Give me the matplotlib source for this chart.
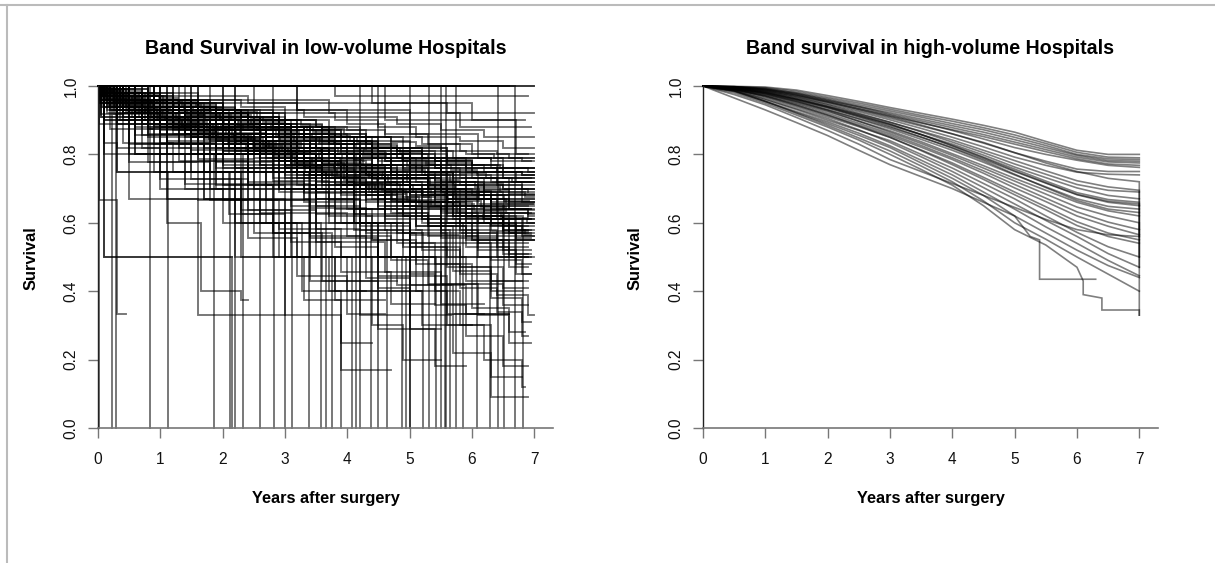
import matplotlib
matplotlib.use("Agg")
import matplotlib.pyplot as plt
from matplotlib.lines import Line2D

plt.rcParams['font.family'] = ['Liberation Sans', 'DejaVu Sans']

# ---------------- data ----------------
# Left panel: Kaplan-Meier curves of low-volume hospitals.
# each curve: [t1, s1, t2, s2, ..., end_time]  (survival starts at 1.0)
low_band = [
    [.15,.97, .6,.95, 1.2,.93, 1.9,.91, 2.6,.88, 3.3,.85, 4.1,.82, 4.8,.79, 5.6,.77, 6.4,.75, 7.0],
    [.05,.96, .3,.93, .8,.91, 1.4,.88, 2.0,.85, 2.5,.82, 3.2,.78, 3.9,.74, 4.5,.70, 5.1,.66, 5.9,.62, 6.5,.59, 7.0],
    [.2,.98, .7,.96, 1.5,.94, 2.2,.92, 2.9,.89, 3.6,.87, 4.3,.84, 5.0,.81, 5.7,.79, 6.3,.78, 6.95],
    [.1,.95, .5,.92, 1.0,.89, 1.6,.86, 2.1,.82, 2.8,.78, 3.4,.74, 4.0,.70, 4.6,.66, 5.2,.61, 5.8,.57, 6.4,.53, 6.9],
    [.3,.97, .9,.95, 1.7,.92, 2.4,.90, 3.0,.86, 3.7,.83, 4.2,.80, 4.9,.76, 5.5,.72, 6.1,.70, 6.6,.68, 7.0],
    [.05,.94, .4,.91, 1.1,.88, 1.8,.84, 2.4,.80, 3.0,.76, 3.5,.72, 4.1,.68, 4.7,.63, 5.3,.59, 6.0,.55, 6.6,.50, 6.95],
    [.25,.98, 1.0,.96, 1.8,.95, 2.5,.93, 3.3,.91, 4.0,.89, 4.6,.86, 5.3,.83, 6.0,.80, 6.6,.79, 7.0],
    [.1,.97, .6,.94, 1.3,.90, 2.0,.87, 2.7,.84, 3.4,.80, 4.2,.76, 4.8,.73, 5.5,.69, 6.2,.65, 6.9],
    [.4,.96, 1.1,.93, 1.9,.89, 2.6,.85, 3.1,.81, 3.8,.77, 4.4,.72, 5.0,.68, 5.6,.63, 6.3,.60, 7.0],
    [.08,.97, .5,.95, 1.0,.92, 1.7,.90, 2.3,.87, 3.1,.83, 3.8,.80, 4.5,.77, 5.2,.74, 5.9,.71, 6.5,.70, 7.0],
    [.15,.93, .7,.90, 1.4,.86, 2.2,.82, 2.9,.78, 3.6,.73, 4.3,.68, 4.9,.62, 5.5,.57, 6.1,.52, 6.7,.48, 6.95],
    [.3,.99, .8,.97, 1.6,.96, 2.3,.94, 3.0,.92, 3.8,.90, 4.5,.88, 5.1,.85, 5.8,.84, 6.5,.82, 7.0],
    [.05,.98, .35,.95, .9,.92, 1.5,.89, 2.1,.86, 2.6,.83, 3.3,.79, 3.9,.75, 4.6,.71, 5.4,.66, 6.0,.62, 6.7,.58, 7.0],
    [.2,.96, .8,.94, 1.6,.91, 2.2,.88, 2.9,.85, 3.5,.82, 4.1,.79, 4.7,.75, 5.4,.72, 6.2,.69, 6.9],
    [.1,.97, .5,.93, 1.2,.89, 1.8,.85, 2.5,.81, 3.2,.77, 3.7,.73, 4.3,.68, 4.8,.64, 5.3,.60, 5.9,.56, 6.5,.52, 6.95],
    [.45,.98, 1.2,.95, 2.0,.93, 2.8,.90, 3.5,.88, 4.2,.85, 4.9,.82, 5.6,.79, 6.3,.76, 7.0],
    [.12,.96, .6,.93, 1.4,.91, 2.1,.89, 2.7,.86, 3.4,.82, 4.0,.79, 4.7,.74, 5.3,.70, 5.9,.67, 6.6,.64, 7.0],
    [.2,.95, .9,.91, 1.5,.87, 2.3,.83, 3.0,.79, 3.6,.75, 4.2,.70, 4.9,.65, 5.5,.60, 6.0,.55, 6.6,.51, 6.9],
    [.06,.99, .5,.97, 1.1,.95, 1.9,.93, 2.6,.90, 3.2,.87, 3.9,.85, 4.5,.82, 5.2,.79, 5.9,.76, 6.5,.74, 7.0],
    [.3,.94, .9,.92, 1.5,.89, 2.2,.86, 2.8,.83, 3.5,.79, 4.1,.75, 4.8,.71, 5.6,.67, 6.3,.63, 7.0],
    [.1,.98, .7,.95, 1.3,.93, 2.0,.90, 2.6,.87, 3.3,.84, 4.0,.81, 4.6,.78, 5.2,.75, 5.8,.73, 6.4,.72, 6.95],
    [.2,.97, .8,.93, 1.5,.90, 2.1,.86, 2.7,.82, 3.3,.78, 4.0,.74, 4.6,.69, 5.3,.64, 6.0,.59, 6.6,.55, 7.0],
    [.04,.95, .3,.92, .7,.89, 1.2,.87, 1.9,.84, 2.6,.80, 3.2,.77, 3.9,.73, 4.6,.69, 5.2,.66, 5.8,.62, 6.5,.58, 6.9],
    [.35,.97, 1.0,.94, 1.7,.92, 2.4,.89, 3.1,.86, 3.8,.83, 4.4,.79, 5.1,.75, 5.7,.71, 6.2,.68, 6.8,.66, 7.0],
    [.15,.96, .6,.94, 1.2,.92, 1.9,.88, 2.5,.85, 3.1,.81, 3.7,.77, 4.3,.74, 5.0,.70, 5.7,.65, 6.4,.61, 7.0],
    [.5,.95, 1.3,.92, 2.0,.88, 2.7,.84, 3.4,.80, 4.0,.76, 4.6,.72, 5.2,.68, 5.9,.64, 6.5,.61, 6.95],
    [.1,.99, .8,.98, 1.6,.97, 2.4,.95, 3.2,.93, 4.0,.91, 4.8,.89, 5.5,.87, 6.2,.85, 7.0],
    [.25,.93, .8,.89, 1.4,.85, 2.0,.81, 2.6,.77, 3.2,.73, 3.9,.69, 4.5,.64, 5.1,.59, 5.7,.54, 6.3,.49, 6.8,.45, 6.95],
    [.07,.97, .4,.94, 1.0,.91, 1.6,.88, 2.3,.84, 3.0,.81, 3.6,.78, 4.3,.74, 4.9,.71, 5.6,.68, 6.3,.66, 7.0],
    [.2,.98, .9,.96, 1.6,.93, 2.3,.91, 3.0,.88, 3.6,.84, 4.3,.81, 5.0,.77, 5.6,.74, 6.3,.72, 7.0],
]
low_band_extra = [
    [.02,.97, .2,.95, .5,.93, .9,.91, 1.3,.90, 1.8,.88, 2.2,.86, 2.7,.84, 3.2,.82, 3.6,.80, 4.1,.77, 4.6,.75, 5.0,.73, 5.5,.70, 6.0,.68, 6.6,.66, 7.0],
    [.1,.99, .4,.98, .7,.96, 1.1,.95, 1.5,.94, 2.0,.92, 2.4,.91, 2.9,.89, 3.4,.87, 3.9,.85, 4.3,.83, 4.8,.81, 5.4,.78, 5.9,.76, 6.5,.75, 7.0],
    [.05,.96, .25,.94, .6,.92, 1.0,.90, 1.4,.87, 1.8,.85, 2.3,.83, 2.8,.80, 3.1,.78, 3.5,.75, 4.0,.72, 4.4,.69, 4.9,.66, 5.5,.63, 6.1,.60, 6.6,.57, 6.95],
    [.15,.98, .45,.96, .85,.95, 1.3,.93, 1.7,.91, 2.2,.89, 2.6,.87, 3.0,.85, 3.5,.83, 4.0,.80, 4.5,.78, 5.0,.75, 5.6,.73, 6.2,.71, 6.8,.70, 7.0],
    [.03,.95, .3,.93, .55,.91, 1.0,.89, 1.5,.86, 2.0,.83, 2.5,.80, 3.0,.77, 3.4,.74, 3.9,.71, 4.5,.67, 5.0,.64, 5.6,.60, 6.1,.57, 6.7,.54, 6.9],
    [.2,.97, .5,.96, 1.0,.94, 1.4,.93, 1.9,.91, 2.5,.89, 3.0,.88, 3.4,.86, 3.9,.84, 4.4,.82, 4.9,.80, 5.4,.78, 6.0,.77, 6.5,.76, 7.0],
    [.08,.96, .35,.93, .75,.90, 1.2,.88, 1.6,.85, 2.1,.82, 2.6,.79, 3.0,.76, 3.6,.72, 4.1,.69, 4.6,.65, 5.2,.61, 5.8,.58, 6.4,.55, 7.0],
    [.25,.99, .6,.97, 1.0,.96, 1.5,.95, 2.0,.93, 2.5,.92, 3.0,.90, 3.5,.88, 4.0,.87, 4.6,.85, 5.2,.83, 5.8,.81, 6.4,.80, 7.0],
    [.04,.98, .2,.96, .45,.94, .8,.92, 1.2,.90, 1.7,.87, 2.1,.85, 2.5,.82, 3.0,.80, 3.5,.77, 4.0,.74, 4.6,.71, 5.2,.68, 5.7,.65, 6.3,.63, 6.9,.61, 7.0],
    [.12,.95, .4,.92, .9,.90, 1.3,.87, 1.9,.84, 2.4,.81, 2.9,.78, 3.3,.74, 3.8,.71, 4.3,.67, 4.8,.63, 5.3,.59, 5.9,.55, 6.5,.51, 6.95],
    [.3,.98, .7,.97, 1.2,.95, 1.8,.93, 2.3,.90, 2.8,.88, 3.3,.85, 3.8,.83, 4.4,.80, 4.9,.78, 5.5,.75, 6.1,.73, 6.7,.72, 7.0],
    [.06,.97, .3,.95, .7,.93, 1.1,.91, 1.6,.89, 2.1,.87, 2.7,.85, 3.2,.82, 3.7,.80, 4.2,.77, 4.8,.74, 5.3,.71, 5.9,.69, 6.5,.67, 7.0],
    [.18,.94, .6,.91, 1.0,.88, 1.5,.85, 2.0,.81, 2.6,.78, 3.2,.74, 3.7,.70, 4.3,.66, 4.9,.62, 5.5,.58, 6.1,.54, 6.7,.50, 6.9],
    [.1,.98, .5,.97, .9,.95, 1.4,.94, 1.8,.92, 2.3,.90, 2.9,.88, 3.4,.86, 4.0,.84, 4.5,.81, 5.0,.79, 5.6,.77, 6.2,.75, 6.8,.74, 7.0],
    [.02,.96, .28,.94, .65,.91, 1.1,.89, 1.6,.86, 2.2,.84, 2.7,.81, 3.3,.78, 3.8,.76, 4.4,.73, 5.0,.70, 5.6,.67, 6.3,.64, 6.9,.62, 7.0],
    [.22,.97, .55,.95, 1.0,.92, 1.5,.90, 2.1,.87, 2.6,.85, 3.1,.82, 3.7,.79, 4.2,.76, 4.7,.73, 5.3,.70, 5.8,.67, 6.4,.64, 6.95],
    [.05,.99, .3,.97, .6,.95, 1.0,.94, 1.5,.92, 2.0,.91, 2.6,.89, 3.1,.87, 3.7,.84, 4.2,.82, 4.8,.79, 5.4,.76, 6.0,.73, 6.6,.70, 7.0],
    [.14,.95, .5,.93, .95,.90, 1.4,.88, 1.9,.85, 2.4,.82, 3.0,.79, 3.5,.76, 4.0,.73, 4.6,.69, 5.1,.66, 5.7,.62, 6.3,.59, 6.8,.56, 7.0],
    [.35,.98, .8,.96, 1.3,.94, 1.9,.92, 2.4,.90, 2.9,.87, 3.5,.85, 4.1,.82, 4.7,.80, 5.3,.77, 5.9,.75, 6.5,.73, 7.0],
    [.08,.97, .4,.94, .8,.92, 1.2,.89, 1.7,.87, 2.2,.84, 2.7,.81, 3.3,.78, 3.9,.75, 4.5,.71, 5.0,.68, 5.6,.64, 6.2,.61, 6.8,.58, 6.95],
]
low_band_fine = [
    [.1,.985, .3,.97, .55,.955, .8,.945, 1.1,.93, 1.4,.915, 1.7,.905, 2.0,.89, 2.3,.875, 2.6,.86, 2.9,.845, 3.2,.83, 3.5,.815, 3.8,.80, 4.1,.785, 4.4,.77, 4.7,.755, 5.0,.74, 5.4,.725, 5.8,.71, 6.2,.695, 6.6,.685, 7.0],
    [.05,.98, .2,.965, .45,.95, .7,.935, .95,.92, 1.25,.905, 1.5,.89, 1.85,.875, 2.15,.855, 2.45,.84, 2.75,.82, 3.05,.805, 3.4,.785, 3.7,.77, 4.0,.75, 4.35,.73, 4.7,.71, 5.05,.69, 5.4,.67, 5.8,.65, 6.2,.63, 6.6,.61, 6.95],
    [.15,.99, .4,.98, .65,.97, .9,.96, 1.2,.95, 1.5,.94, 1.8,.93, 2.1,.915, 2.45,.905, 2.8,.89, 3.1,.88, 3.45,.865, 3.8,.85, 4.15,.835, 4.5,.82, 4.85,.805, 5.2,.79, 5.6,.775, 6.0,.76, 6.4,.75, 6.8,.74, 7.0],
    [.03,.975, .18,.955, .4,.94, .6,.925, .85,.91, 1.1,.895, 1.35,.88, 1.6,.86, 1.9,.845, 2.2,.83, 2.5,.81, 2.8,.79, 3.1,.775, 3.4,.755, 3.75,.735, 4.1,.715, 4.45,.695, 4.8,.675, 5.15,.655, 5.5,.635, 5.9,.615, 6.3,.595, 6.7,.575, 6.9],
    [.08,.99, .25,.975, .5,.965, .75,.955, 1.05,.94, 1.3,.93, 1.6,.915, 1.95,.90, 2.25,.885, 2.55,.875, 2.9,.86, 3.2,.845, 3.55,.83, 3.9,.81, 4.25,.795, 4.6,.78, 4.95,.765, 5.3,.745, 5.7,.73, 6.1,.715, 6.5,.70, 6.9,.69, 7.0],
    [.12,.98, .35,.96, .6,.945, .9,.925, 1.2,.91, 1.45,.895, 1.75,.875, 2.05,.86, 2.35,.845, 2.65,.825, 2.95,.81, 3.3,.79, 3.6,.775, 3.95,.755, 4.3,.74, 4.65,.72, 5.0,.70, 5.35,.685, 5.75,.665, 6.15,.645, 6.55,.63, 6.95],
    [.02,.985, .22,.975, .48,.96, .72,.95, 1.0,.94, 1.3,.925, 1.6,.91, 1.9,.90, 2.2,.885, 2.5,.87, 2.85,.855, 3.15,.84, 3.5,.82, 3.85,.805, 4.2,.79, 4.55,.77, 4.9,.755, 5.25,.74, 5.65,.72, 6.05,.705, 6.45,.69, 6.85,.675, 7.0],
    [.1,.975, .3,.955, .5,.94, .75,.92, 1.0,.905, 1.3,.885, 1.55,.87, 1.85,.85, 2.1,.835, 2.4,.815, 2.7,.80, 3.0,.78, 3.3,.765, 3.6,.745, 3.95,.725, 4.3,.705, 4.6,.685, 4.95,.665, 5.3,.645, 5.7,.62, 6.1,.60, 6.5,.58, 6.85,.565, 6.95],
    [.2,.99, .45,.98, .75,.97, 1.05,.955, 1.35,.945, 1.65,.935, 2.0,.92, 2.3,.91, 2.65,.895, 3.0,.88, 3.35,.87, 3.7,.855, 4.05,.84, 4.4,.825, 4.8,.81, 5.2,.80, 5.6,.785, 6.0,.77, 6.45,.76, 6.9,.75, 7.0],
    [.06,.98, .26,.965, .5,.945, .78,.93, 1.05,.915, 1.32,.90, 1.62,.885, 1.92,.87, 2.22,.85, 2.52,.835, 2.85,.815, 3.18,.80, 3.5,.78, 3.85,.765, 4.2,.745, 4.55,.73, 4.9,.71, 5.3,.69, 5.7,.675, 6.1,.655, 6.5,.64, 6.9,.625, 7.0],
    [.14,.985, .38,.97, .62,.955, .88,.94, 1.15,.93, 1.42,.915, 1.72,.90, 2.02,.885, 2.32,.87, 2.62,.85, 2.92,.835, 3.25,.82, 3.58,.80, 3.92,.785, 4.25,.765, 4.6,.75, 4.95,.73, 5.32,.715, 5.72,.70, 6.12,.68, 6.52,.665, 6.92],
    [.04,.97, .24,.955, .46,.935, .7,.92, .96,.90, 1.22,.885, 1.5,.865, 1.78,.845, 2.08,.83, 2.38,.81, 2.7,.79, 3.0,.77, 3.32,.75, 3.65,.73, 4.0,.71, 4.35,.69, 4.72,.665, 5.1,.645, 5.5,.62, 5.9,.60, 6.3,.575, 6.7,.555, 6.95],
    [.18,.99, .42,.985, .7,.975, .98,.965, 1.28,.955, 1.58,.945, 1.9,.935, 2.2,.925, 2.55,.91, 2.9,.90, 3.25,.885, 3.6,.875, 3.95,.86, 4.3,.85, 4.7,.835, 5.1,.825, 5.5,.81, 5.9,.80, 6.35,.79, 6.8,.78, 7.0],
    [.09,.98, .32,.965, .58,.95, .84,.935, 1.12,.92, 1.4,.905, 1.68,.89, 1.98,.875, 2.28,.86, 2.6,.84, 2.9,.825, 3.22,.81, 3.55,.79, 3.88,.775, 4.22,.755, 4.58,.74, 4.95,.72, 5.32,.705, 5.72,.685, 6.12,.67, 6.55,.655, 6.98],
    [.01,.975, .16,.96, .36,.945, .58,.93, .82,.915, 1.08,.90, 1.34,.885, 1.62,.865, 1.92,.85, 2.22,.83, 2.52,.815, 2.84,.795, 3.16,.775, 3.5,.755, 3.84,.735, 4.2,.715, 4.56,.695, 4.94,.675, 5.34,.65, 5.76,.63, 6.18,.61, 6.6,.59, 6.9],
    [.11,.99, .33,.98, .57,.965, .83,.955, 1.1,.945, 1.38,.93, 1.66,.92, 1.96,.905, 2.26,.895, 2.58,.88, 2.9,.865, 3.22,.85, 3.56,.835, 3.9,.82, 4.26,.805, 4.62,.79, 5.0,.775, 5.4,.76, 5.8,.745, 6.22,.73, 6.64,.72, 7.0],
    [.07,.98, .28,.96, .52,.945, .76,.93, 1.02,.91, 1.3,.895, 1.58,.88, 1.88,.86, 2.18,.845, 2.48,.825, 2.8,.81, 3.12,.79, 3.44,.77, 3.78,.755, 4.12,.735, 4.48,.715, 4.84,.695, 5.22,.675, 5.62,.655, 6.04,.635, 6.46,.615, 6.88,.60, 7.0],
    [.16,.985, .4,.975, .66,.96, .94,.95, 1.22,.94, 1.52,.925, 1.82,.915, 2.14,.90, 2.46,.89, 2.78,.875, 3.1,.86, 3.44,.845, 3.78,.83, 4.14,.815, 4.5,.80, 4.88,.785, 5.26,.77, 5.66,.755, 6.08,.74, 6.5,.73, 6.94],
]
low_small_n = [
    [.1,.9, .6,.8, 1.4,.7, 2.2,.6, 3.1,.5, 4.0,.4, 5.2,.3, 6.0],
    [.05,.917, .4,.833, 1.2,.75, 2.0,.667, 2.9,.583, 3.9,.5, 4.8,.417, 5.9,.333, 6.6],
    [.2,.929, .7,.857, 1.6,.786, 2.5,.714, 3.4,.643, 4.3,.571, 5.1,.5, 5.9,.429, 6.8],
    [.15,.944, .5,.889, 1.1,.833, 1.9,.778, 2.8,.722, 3.7,.667, 4.6,.611, 5.5,.556, 6.4,.5, 7.0],
    [.3,.95, 1.0,.9, 1.7,.85, 2.3,.8, 3.2,.75, 4.0,.7, 4.9,.65, 5.8,.6, 6.7,.55, 7.0],
    [.08,.938, .8,.875, 1.5,.813, 2.4,.75, 3.3,.688, 4.1,.625, 5.0,.563, 5.8,.5, 6.9],
    [.4,.955, .9,.909, 1.8,.864, 2.7,.818, 3.6,.773, 4.4,.727, 5.3,.682, 6.2,.636, 7.0],
    [.12,.962, .45,.923, .9,.885, 1.7,.846, 2.6,.808, 3.5,.769, 4.5,.731, 5.4,.692, 6.3,.654, 7.0],
    [.02,.889, .5,.778, 1.8,.667, 3.4,.556, 4.5,.444, 5.6,.333, 6.6],
    [.25,.952, .8,.905, 1.4,.857, 2.2,.810, 3.0,.762, 3.8,.714, 4.7,.667, 5.6,.619, 6.5,.571, 6.9],
    [.6,.96, 1.5,.92, 2.4,.88, 3.3,.84, 4.1,.80, 5.0,.76, 5.9,.72, 6.8,.68, 7.0],
    [.05,.909, .3,.818, 1.0,.727, 2.4,.636, 3.5,.545, 4.6,.455, 5.5,.364, 6.2],
    [.35,.94, .8,.88, 1.3,.82, 2.0,.76, 2.7,.71, 3.5,.65, 4.2,.59, 5.0,.53, 5.8,.47, 6.5,.41, 6.9],
    [.1,.97, .9,.94, 1.9,.91, 2.9,.88, 3.8,.85, 4.7,.82, 5.6,.79, 6.5,.76, 7.0],
]
low_medium = [
    [.3,.95, 1.2,.90, 2.1,.85, 3.0,.80, 3.8,.75, 4.6,.70, 5.4,.65, 6.2,.60, 7.0],
    [.1,.94, .9,.88, 1.7,.82, 2.9,.76, 3.6,.71, 4.5,.65, 5.1,.59, 5.9,.53, 6.6,.47, 6.9],
    [.6,.95, 1.5,.90, 2.6,.86, 3.4,.81, 4.4,.76, 5.3,.71, 6.1,.67, 7.0],
    [.2,.93, 1.0,.87, 1.9,.80, 2.8,.73, 3.5,.67, 4.2,.60, 4.9,.53, 5.6,.47, 6.3,.40, 6.8],
    [.4,.96, 1.6,.92, 2.5,.88, 3.7,.83, 4.7,.79, 5.5,.75, 6.4,.71, 7.0],
    [.15,.92, .8,.85, 1.6,.78, 2.4,.72, 3.3,.66, 4.1,.60, 4.8,.54, 5.4,.48, 6.0,.42, 6.5,.36, 6.9],
    [.5,.94, 1.4,.89, 2.2,.83, 3.1,.77, 4.0,.72, 4.8,.66, 5.7,.61, 6.5,.56, 7.0],
    [.05,.95, .7,.90, 1.8,.86, 2.7,.81, 3.3,.76, 4.1,.71, 5.0,.66, 5.8,.61, 6.6,.57, 7.0],
    [.3,.91, 1.1,.84, 2.0,.77, 2.7,.70, 3.4,.63, 4.0,.56, 4.7,.49, 5.3,.42, 6.0,.35, 6.6,.28, 6.85],
    [.2,.96, 1.3,.93, 2.3,.89, 3.2,.86, 4.3,.82, 5.2,.78, 6.0,.75, 6.7,.73, 7.0],
    [.4,.93, 1.2,.86, 2.1,.80, 3.0,.74, 3.9,.68, 4.6,.62, 5.3,.56, 6.1,.50, 6.7,.45, 6.95],
    [.1,.97, 1.0,.93, 2.0,.88, 2.9,.84, 3.8,.79, 4.7,.74, 5.6,.69, 6.4,.65, 7.0],
    [.6,.92, 1.5,.85, 2.4,.78, 3.2,.71, 4.1,.64, 4.9,.57, 5.6,.50, 6.3,.43, 6.9],
    [.25,.95, 1.1,.91, 2.2,.86, 3.3,.82, 4.2,.77, 5.1,.72, 5.9,.68, 6.6,.64, 6.95],
    [.1,.90, .9,.83, 1.9,.76, 2.9,.69, 3.7,.62, 4.4,.55, 5.1,.48, 5.8,.41, 6.4,.34, 6.8,.27, 6.9],
]
low_lower = [
    [.5,.92, 1.6,.83, 2.6,.75, 3.5,.67, 4.2,.58, 4.9,.50, 5.5,.42, 6.1,.33, 6.6,.25, 6.95],
    [.3,.89, 1.3,.78, 2.4,.67, 3.4,.56, 4.3,.44, 5.0,.33, 5.7,.22, 6.3,.09, 6.9],
    [.7,.9, 1.9,.8, 2.9,.7, 3.7,.6, 4.5,.5, 5.1,.4, 5.6,.3, 6.2,.2, 6.8,.12, 6.85],
    [.2,.94, 1.0,.88, 1.9,.82, 2.7,.76, 3.4,.70, 4.0,.64, 4.6,.58, 5.2,.52, 5.8,.45, 6.4,.39, 6.9,.33, 7.0],
    [.9,.91, 2.0,.82, 3.0,.73, 3.8,.64, 4.4,.55, 5.0,.45, 5.4,.36, 5.9,.27, 6.5,.18, 6.9],
    [1.2,.88, 2.2,.76, 3.1,.65, 3.8,.53, 4.5,.41, 5.0,.29, 5.4,.18, 5.9],
    [.4,.92, 1.5,.85, 2.6,.77, 3.5,.69, 4.3,.62, 5.0,.54, 5.7,.46, 6.3,.38, 6.8,.31, 6.95],
    [.6,.83, 1.7,.67, 2.3,.5, 3.0,.33, 3.9,.17, 4.7],
    [1.0,.86, 2.0,.71, 2.8,.57, 3.4,.43, 4.5,.29, 5.5],
    [.35,.9, 1.1,.8, 1.9,.7, 2.6,.6, 3.2,.5, 3.8,.4, 4.4,.3, 4.9,.2, 5.5],
    [.5,.67, 1.6,.33, 3.0],
    [.8,.875, 1.5,.75, 2.3,.625, 2.8,.5, 3.3,.375, 3.9,.25, 4.4],
    [1.6,.9, 2.7,.8, 3.5,.7, 4.1,.6, 4.7,.5, 5.4,.4, 5.8,.3, 6.3,.15, 6.8],
    [.3,.9, 1.1,.8, 1.8,.7, 2.7,.6, 3.5,.5, 4.4,.4, 5.2],
    [.2,.875, .9,.75, 2.1,.625, 3.0,.5, 3.8,.375, 4.6],
    [.5,.83, 1.7,.67, 3.0,.5, 4.2,.33, 5.0],
    [.1,.8, 1.0,.7, 2.0,.6, 2.9,.5, 3.7,.4, 4.3],
    [.6,.857, 1.4,.714, 2.5,.571, 3.6,.429, 4.8],
    [.3,.889, .8,.778, 1.6,.667, 2.4,.556, 3.2,.444, 4.0,.333, 4.6],
    [.05,.909, .7,.818, 1.5,.727, 2.3,.636, 3.1,.545, 3.9,.455, 4.7,.364, 5.4],
    [.25,.917, 1.0,.833, 1.8,.75, 2.7,.667, 3.5,.583, 4.2,.5, 5.0,.417, 5.7,.333, 6.2],
    [.1,.5, 2.15],
    [.02,.667, .3,.333, .45],
    [.1,.833, .3,.75, 2.2,.5, 2.9],
    [.6,.8, 1.1,.6, 1.65,.4, 2.3,.375, 2.4],
]
low_zero = [
    [.1,.5, 2.15,0, 2.15],
    [.3,.75, 2.12,0, 2.12],
    [.4,.9, 1.5,.8, 2.5,.7, 3.1,.6, 3.58,0, 3.58],
    [.8,.86, 1.9,.71, 2.8,.57, 3.76,0, 3.76],
    [1.0,.8, 2.3,.6, 3.28,.4, 3.9,0, 3.9],
    [.6,.88, 1.7,.75, 2.6,.63, 3.4,.5, 4.07,0, 4.07],
    [.9,.9, 2.0,.8, 3.0,.7, 3.8,.6, 4.38,0, 4.38],
    [.5,.92, 1.3,.83, 2.4,.75, 3.3,.67, 4.1,.58, 4.63,0, 4.63],
    [1.2,.875, 2.2,.75, 3.5,.625, 4.3,.5, 4.88,0, 4.88],
    [.7,.9, 1.8,.8, 2.9,.7, 3.9,.6, 4.5,.5, 4.94,0, 4.94],
    [.3,.93, 1.4,.86, 2.5,.79, 3.4,.71, 4.2,.64, 4.8,.57, 5.22,0, 5.22],
    [1.1,.9, 2.6,.8, 3.6,.7, 4.6,.6, 5.0,.5, 5.43,0, 5.43],
    [.6,.94, 1.9,.88, 3.0,.81, 4.0,.75, 4.9,.69, 5.56,0, 5.56],
    [.9,.92, 2.1,.83, 3.2,.75, 4.4,.67, 5.1,.58, 5.65,0, 5.65],
    [1.5,.9, 3.1,.8, 4.2,.7, 5.2,.6, 5.86,0, 5.86],
    [.4,.95, 1.6,.9, 2.8,.85, 3.9,.8, 4.9,.75, 5.7,.7, 6.08,0, 6.08],
    [2.0,.9, 3.7,.8, 5.0,.7, 5.9,.6, 6.29,0, 6.29],
    [.8,.93, 2.4,.87, 3.6,.8, 4.7,.73, 5.6,.67, 6.51,0, 6.51],
    [1.3,.92, 3.0,.85, 4.4,.77, 5.5,.69, 6.3,.62, 6.82,0, 6.82],
    [2.2,.875, 3.1,.75, 3.39,0, 3.39],
    [1.6,.8, 2.33,0, 2.33],
    [1.1,.67, 2.6,0, 2.6],
    [.5,.8, 1.86,0, 1.86],
    [1.0,.75, 1.12,0, 1.12],
    [2.0,.83, 2.82,0, 2.82],
    [1.4,.86, 2.4,.71, 3.0,0, 3.0],
    [.9,.9, 2.5,.8, 3.11,0, 3.11],
    [3.2,.8, 4.14,0, 4.14],
    [2.8,.75, 3.66,0, 3.66],
    [1.8,.8, 3.5,.6, 5.0,0, 5.0],
]
low_single_death = [0.01, 0.22, 0.29, 0.84, 2.19, 4.2, 4.5, 5.0, 5.31, 5.5, 5.59, 5.74, 6.42, 6.69]
low_top = [
    [7.0],
    [6.6],
    [7.0],
    [3.8,.97, 6.9],
    [2.5,.95, 5.6,.92, 7.0],
    [4.6,.9, 6.7,.8, 6.9],
    [3.2,.93, 5.0,.86, 6.1,.79, 7.0],
    [1.5,.96, 3.7,.92, 5.8,.88, 6.95],
    [4.4,.95, 6.0,.9, 6.85],
]

# Right panel: high-volume hospitals, survival read at common times
high_times = [0, .5, 1, 1.5, 2, 2.5, 3, 3.5, 4, 4.5, 5, 5.5, 6, 6.5, 7]
high_surv = [
    [1,.999,.997,.988,.972,.955,.937,.920,.903,.885,.865,.838,.812,.800,.800],
    [1,.998,.995,.984,.967,.950,.932,.914,.897,.878,.857,.832,.806,.792,.790],
    [1,.998,.992,.980,.963,.945,.927,.909,.890,.872,.850,.826,.800,.787,.785],
    [1,.997,.990,.977,.958,.940,.922,.903,.884,.865,.843,.820,.797,.782,.780],
    [1,.998,.993,.979,.960,.940,.918,.898,.878,.858,.836,.814,.792,.778,.775],
    [1,.996,.987,.972,.953,.933,.912,.892,.872,.852,.830,.808,.787,.772,.768],
    [1,.997,.990,.975,.956,.936,.915,.893,.870,.845,.820,.800,.783,.768,.762],
    [1,.996,.987,.971,.951,.929,.906,.883,.860,.835,.805,.780,.757,.750,.750],
    [1,.995,.984,.968,.947,.925,.901,.876,.850,.822,.792,.768,.748,.742,.740],
    [1,.994,.982,.963,.941,.918,.894,.868,.842,.812,.782,.752,.723,.705,.695],
    [1,.996,.986,.967,.945,.920,.894,.866,.836,.805,.772,.742,.712,.695,.690],
    [1,.993,.979,.959,.936,.911,.886,.858,.830,.798,.763,.732,.702,.680,.670],
    [1,.994,.981,.961,.939,.914,.889,.858,.826,.792,.757,.722,.688,.668,.660],
    [1,.997,.990,.974,.954,.932,.910,.886,.860,.833,.805,.775,.750,.730,.720],
    [1,.991,.976,.955,.931,.905,.879,.850,.820,.786,.750,.716,.682,.660,.650],
    [1,.993,.978,.956,.930,.903,.875,.844,.812,.777,.740,.705,.670,.648,.640],
    [1,.990,.973,.950,.925,.897,.869,.837,.802,.767,.730,.695,.660,.635,.620],
    [1,.992,.976,.953,.928,.897,.865,.832,.797,.760,.722,.684,.646,.620,.600],
    [1,.989,.971,.947,.920,.891,.860,.826,.790,.752,.712,.672,.632,.602,.580],
    [1,.991,.969,.943,.915,.886,.855,.821,.785,.745,.702,.662,.620,.590,.565],
    [1,.988,.966,.939,.910,.881,.850,.813,.775,.733,.690,.647,.603,.570,.550],
    [1,.990,.971,.944,.915,.883,.850,.811,.770,.727,.682,.638,.592,.560,.540],
    [1,.995,.983,.963,.940,.915,.888,.858,.825,.790,.752,.717,.683,.663,.655],
    [1,.992,.980,.960,.937,.910,.882,.851,.818,.782,.742,.703,.665,.640,.630],
    [1,.986,.960,.931,.900,.870,.840,.800,.760,.715,.670,.620,.572,.530,.500],
    [1,.987,.962,.934,.905,.872,.835,.793,.750,.703,.655,.607,.560,.510,.470],
    [1,.985,.955,.925,.895,.862,.825,.783,.740,.690,.640,.588,.540,.490,.445],
    [1,.984,.955,.922,.890,.856,.820,.775,.730,.680,.620,.570,.520,.475,.440],
    [1,.986,.955,.920,.885,.848,.810,.766,.720,.664,.600,.552,.500,.450,.400],
    [1,.980,.950,.915,.880,.842,.800,.756,.710,.650,.580,.535,.470,.410,.345],
    [1,.965,.930,.893,.855,.812,.770,.735,.700,.660,.620,.550,.435,.435,.435],
    [1,.975,.945,.908,.870,.830,.785,.750,.715,.680,.645,.610,.580,.565,.560],
]
# step-like tails replacing the curve from the first tail time on: index -> (times, survival)
high_tails = {
    29: ([6.0, 6.1, 6.1, 6.4, 6.4, 7.0], [.470, .430, .390, .380, .345, .345]),
    30: ([5.0, 5.25, 5.4, 5.4, 6.3], [.620, .560, .550, .435, .435]),
}
# vertical drop at the last follow-up time: index -> survival after the drop
high_final_drop = {9: .500, 12: .470, 17: .330, 22: .560, 13: .650, 29: .330}

# ---------------- figure ----------------
W, H = 1215, 563
fig = plt.figure(figsize=(W / 100, H / 100), dpi=100)

def ax_rect(x0, x1, ytop, ybot):
    return [x0 / W, 1 - ybot / H, (x1 - x0) / W, (ybot - ytop) / H]

axL = fig.add_axes(ax_rect(98, 553, 86, 428))
axR = fig.add_axes(ax_rect(703, 1158, 86, 428))

LINE_L = dict(color='black', alpha=0.55, lw=1.35, clip_on=False, solid_joinstyle='miter')
LINE_R = dict(color='black', alpha=0.5, lw=1.2, clip_on=False, solid_joinstyle='miter')

def km_xy(c):
    pts, end = c[:-1], c[-1]
    ts, ss = list(pts[0::2]), list(pts[1::2])
    x = [0.0] + ts + [end]
    y = [1.0] + ss + [ss[-1] if ss else 1.0]
    return x, y

for group in (low_band, low_band_extra, low_band_fine, low_small_n, low_medium,
              low_lower, low_zero, low_top):
    for c in group:
        x, y = km_xy(c)
        axL.step(x, y, where='post', **LINE_L)
for t in low_single_death:
    axL.step([0, t, t], [1, 0, 0], where='post', **LINE_L)

for i, s in enumerate(high_surv):
    x, y = list(high_times), list(s)
    if i in high_tails:
        tt, ts = high_tails[i]
        keep = [k for k, t in enumerate(x) if t < tt[0]]
        x = [x[k] for k in keep] + list(tt)
        y = [y[k] for k in keep] + list(ts)
    if i in high_final_drop:
        x.append(x[-1])
        y.append(high_final_drop[i])
    axR.plot(x, y, **LINE_R)

for ax in (axL, axR):
    ax.set_xlim(0, 7.3)
    ax.set_ylim(0, 1)
    ax.set_xticks(range(8))
    ax.set_yticks([0, .2, .4, .6, .8, 1.0])
    ax.set_yticklabels(['0.0', '0.2', '0.4', '0.6', '0.8', '1.0'], rotation=90, va='center')
    for sp in ('top', 'right'):
        ax.spines[sp].set_visible(False)
    ax.spines['left'].set_color('#222222')
    ax.spines['bottom'].set_color('#777777')
    ax.spines['left'].set_linewidth(1.0)
    ax.spines['bottom'].set_linewidth(1.2)
    ax.tick_params(direction='out', length=7, width=1.0, color='#777777',
                   labelsize=11.2, labelcolor='#111111')
    ax.tick_params(axis='x', pad=10)
    ax.tick_params(axis='y', pad=7)
    ax.set_facecolor('none')

def ftext(x, y, s, **kw):
    fig.text(x / W, 1 - y / H, s, ha='center', va='center', **kw)

ftext(325.5, 49, 'Band Survival in low-volume Hospitals', fontsize=14.1, fontweight='bold')
ftext(930.5, 49, 'Band survival in high-volume Hospitals', fontsize=14.1, fontweight='bold')
ftext(325.5, 498, 'Years after surgery', fontsize=11.8, fontweight='bold')
ftext(930.5, 498, 'Years after surgery', fontsize=11.8, fontweight='bold')
ftext(31, 258, 'Survival', fontsize=11.8, fontweight='bold', rotation=90)
ftext(635, 258, 'Survival', fontsize=11.8, fontweight='bold', rotation=90)

# outer frame of the figure region
fig.add_artist(Line2D([0, 1], [1 - 5 / H, 1 - 5 / H], color='#bbbbbb', lw=1.5, transform=fig.transFigure))
fig.add_artist(Line2D([7 / W, 7 / W], [0, 1 - 5 / H], color='#bbbbbb', lw=1.5, transform=fig.transFigure))

fig.savefig('out.png', dpi=100)
